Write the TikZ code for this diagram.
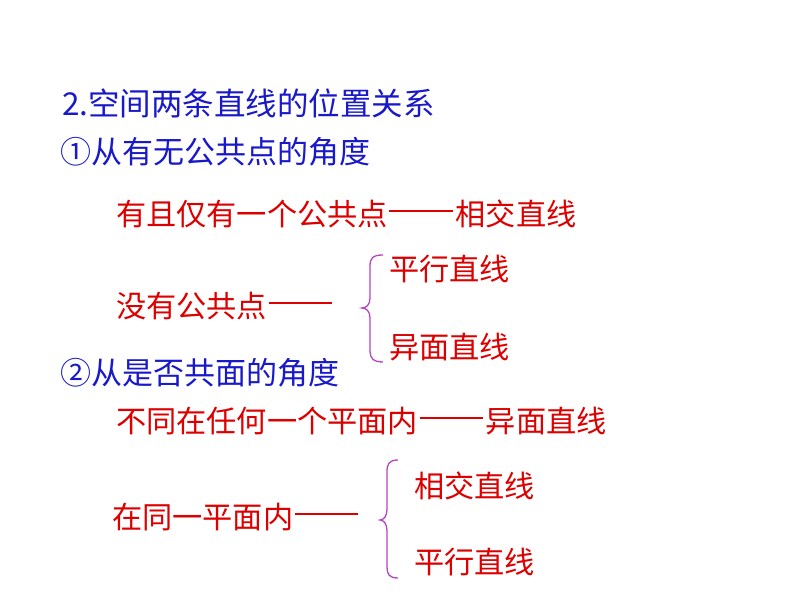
\documentclass[tikz,border=0pt]{standalone}
\usepackage{fontspec}
\setmainfont{Noto Sans CJK SC}
\definecolor{tblue}{RGB}{25,25,200}
\definecolor{tred}{RGB}{220,0,0}
\definecolor{tbrace}{RGB}{180,70,190}
\newcommand\mydash{\hspace{0.05em}\rule[0.44em]{2.1em}{0.085em}\hspace{0.1em}}
\begin{document}
\begin{tikzpicture}[x=1pt,y=-1pt,
  txt/.style={anchor=west,inner sep=0pt,outer sep=0pt},
  bluebig/.style={txt,text=tblue,font=\fontsize{31.5}{31.5}\selectfont},
  blue/.style={txt,text=tblue,font=\fontsize{31}{31}\selectfont},
  red/.style={txt,text=tred,font=\fontsize{30.2}{30.2}\selectfont},
  bracestyle/.style={draw=tbrace,line width=1.3pt}]
\useasboundingbox[fill=white] (0,0) rectangle (794,596);
\node[bluebig] (t1) at (62,103) {2.空间两条直线的位置关系};
\node[blue] (t2) at (60,152) {①从有无公共点的角度};
\node[red] (t3) at (116,214) {有且仅有一个公共点\mydash 相交直线};
\node[red] (t4) at (116,306) {没有公共点\mydash};
\node[red] (t5) at (389,269) {平行直线};
\node[red] (t6) at (389,347) {异面直线};
\node[blue] (t7) at (60,373) {②从是否共面的角度};
\node[red] (t8) at (116,421) {不同在任何一个平面内\mydash 异面直线};
\node[red] (t9) at (112,517) {在同一平面内\mydash};
\node[red] (t10) at (414,486) {相交直线};
\node[red] (t11) at (414,562) {平行直线};
\draw[bracestyle] (383,255) .. controls (373,255) and (370,258) .. (370,266) -- (370,298)
  .. controls (370,305) and (366,308) .. (362,308)
  .. controls (366,308) and (370,311) .. (370,318) -- (370,351)
  .. controls (370,358) and (373,362) .. (383,362);
\draw[bracestyle] (398,460) .. controls (389,460) and (387,464) .. (387,472) -- (387,509)
  .. controls (387,516) and (384,520) .. (380,520)
  .. controls (384,520) and (387,524) .. (387,531) -- (387,567)
  .. controls (387,574) and (389,578) .. (398,578);
\end{tikzpicture}
\end{document}
